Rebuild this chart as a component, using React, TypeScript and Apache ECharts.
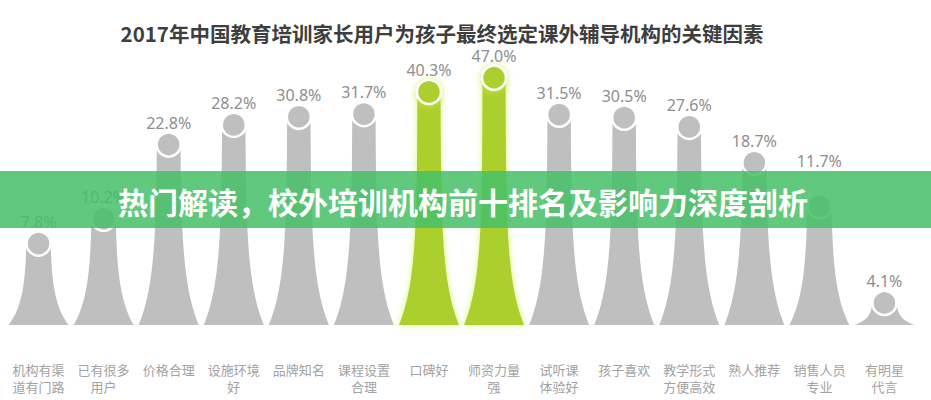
import React, { useEffect, useRef } from "react";
import * as echarts from "echarts";

const titleText = "2017年中国教育培训家长用户为孩子最终选定课外辅导机构的关键因素";
const bannerText = "热门解读，校外培训机构前十排名及影响力深度剖析";

const categories = [
  "机构有渠\n道有门路",
  "已有很多\n用户",
  "价格合理",
  "设施环境\n好",
  "品牌知名",
  "课程设置\n合理",
  "口碑好",
  "师资力量\n强",
  "试听课\n体验好",
  "孩子喜欢",
  "教学形式\n方便高效",
  "熟人推荐",
  "销售人员\n专业",
  "有明星\n代言",
];

const values = [7.8, 10.2, 22.8, 28.2, 30.8, 31.7, 40.3, 47.0, 31.5, 30.5, 27.6, 18.7, 11.7, 4.1];

const highlighted = ["口碑好", "师资力量\n强"];

const GRAY = "#bfbfbf";
const GREEN = "#abd02e";

export default function App() {
  const ref = useRef<HTMLDivElement>(null);

  useEffect(() => {
    if (!ref.current) return;
    const chart = echarts.init(ref.current, null, { renderer: "svg" });

    const renderItem = (params: any, api: any) => {
      const idx = api.value(0);
      const v = api.value(1);
      const pt = api.coord([idx, v]);
      const cs = params.coordSys;
      const base = cs.y + cs.height;
      const cx = pt[0];
      const cy = pt[1];
      const h = base - cy;
      const isHi = highlighted.indexOf(categories[idx]) >= 0;
      const color = isHi ? GREEN : GRAY;
      const L = Math.min(45, h * 0.3);
      const neck = 11.5;
      const flare = 18.5;
      const n = 30;
      const right: number[][] = [];
      for (let k = 0; k <= n; k++) {
        const d = (h * k) / n;
        const hw = neck + flare * Math.exp(-d / L);
        right.push([cx + hw, base - d]);
      }
      const left = right
        .slice()
        .reverse()
        .map((p) => [2 * cx - p[0], p[1]]);
      const points = right.concat(left);
      const shadow = isHi
        ? { shadowBlur: 6, shadowColor: "rgba(210,240,90,0.8)" }
        : {};
      // the source places this one label well above its marker
      const lift = categories[idx] === "销售人员\n专业" ? 45 : 22;
      return {
        type: "group",
        children: [
          {
            type: "polygon",
            shape: { points },
            style: { fill: color, ...shadow },
          },
          {
            type: "circle",
            shape: { cx, cy, r: 12 },
            style: { fill: color, stroke: "#ffffff", lineWidth: 2.5, ...shadow },
          },
          {
            type: "text",
            style: {
              text: v.toFixed(1) + "%",
              x: cx,
              y: cy - lift,
              align: "center",
              verticalAlign: "middle",
              fill: "#8e8e8e",
              fontSize: 16,
              fontFamily: "Noto Sans",
            },
          },
        ],
      };
    };

    chart.setOption({
      animation: false,
      backgroundColor: "#ffffff",
      grid: { left: 6, right: 14, top: 8, bottom: 75, containLabel: false },
      xAxis: {
        type: "category",
        data: categories,
        axisLine: { show: false },
        axisTick: { show: false },
        axisLabel: {
          interval: 0,
          margin: 36,
          fontSize: 13,
          lineHeight: 17,
          color: "#a2a2a2",
          fontFamily: "Noto Sans CJK SC",
        },
      },
      yAxis: {
        type: "log",
        logBase: 10,
        min: 3.23,
        max: 100,
        show: false,
        splitLine: { show: false },
      },
      series: [
        {
          type: "custom",
          renderItem,
          encode: { x: 0, y: 1 },
          data: values.map((v, i) => [i, v]),
        },
      ],
      graphic: [
        {
          type: "text",
          x: 442,
          y: 33,
          z: 100,
          style: {
            text: titleText,
            x: 0,
            y: 0,
            align: "center",
            verticalAlign: "middle",
            fill: "#3e3e3e",
            fontSize: 20.5,
            fontWeight: "bold",
            fontFamily: "Noto Sans CJK SC",
          },
        },
        {
          type: "rect",
          z: 100,
          shape: { x: 0, y: 171, width: 931, height: 57 },
          style: { fill: "rgba(70,192,104,0.86)" },
        },
        {
          type: "text",
          z: 101,
          x: 463,
          y: 201,
          style: {
            text: bannerText,
            x: 0,
            y: 0,
            align: "center",
            verticalAlign: "middle",
            fill: "#ffffff",
            fontSize: 30,
            fontWeight: "bold",
            fontFamily: "Noto Sans CJK SC",
          },
        },
      ],
    });

    return () => chart.dispose();
  }, []);

  return (
    <div
      ref={ref}
      style={{ position: "fixed", left: 0, top: 0, width: 931, height: 400, background: "#fff" }}
    />
  );
}
